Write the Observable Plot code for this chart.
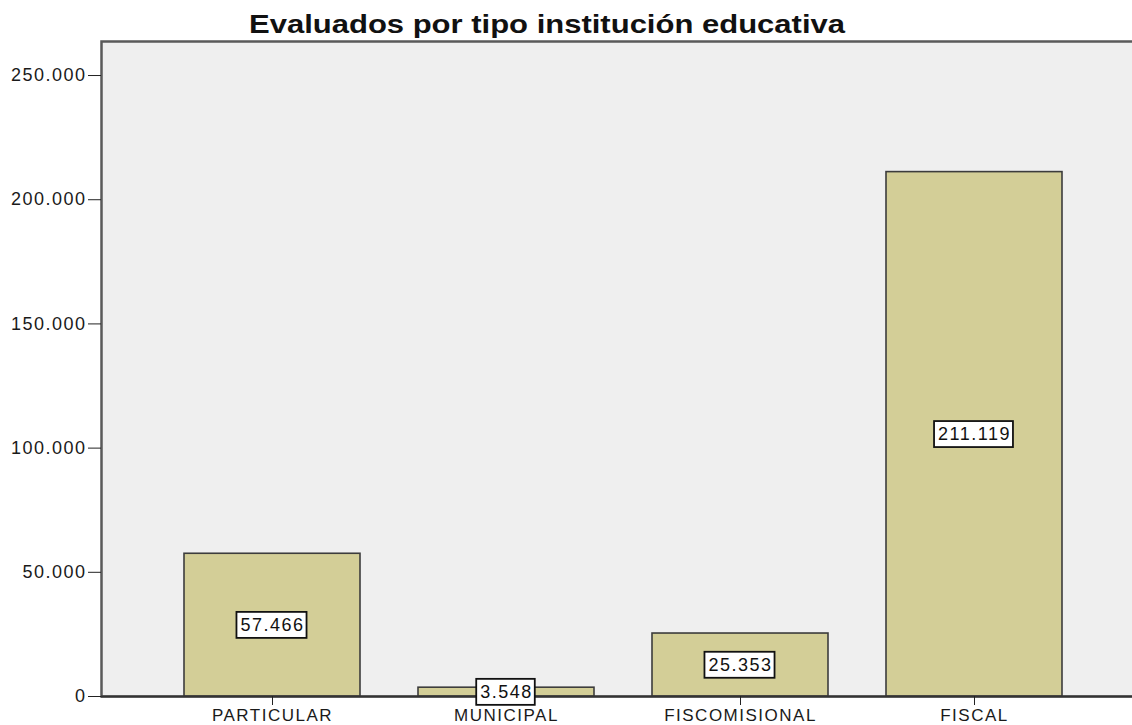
<!DOCTYPE html>
<html><head><meta charset="utf-8">
<script src="https://cdn.jsdelivr.net/npm/d3@7"></script>
<script src="https://cdn.jsdelivr.net/npm/@observablehq/plot@0.6"></script>
<style>
body{margin:0;background:#fff;font-family:"Liberation Sans",Arial,sans-serif;}
#wrap{position:relative;width:1132px;height:725px;overflow:hidden;}
#title{position:absolute;left:249px;top:12px;font-size:25px;line-height:25px;font-weight:bold;color:#111;transform:scaleX(1.24);transform-origin:0 0;white-space:nowrap;}
#chart{position:absolute;left:0;top:0;}
</style></head><body>
<div id="wrap"><div id="chart"></div><div id="title"></div></div>
<script>
const titleText = "Evaluados por tipo institución educativa";
const categories = ["PARTICULAR", "MUNICIPAL", "FISCOMISIONAL", "FISCAL"];
const values = [57466, 3548, 25353, 211119];
const yTicks = [0, 50000, 100000, 150000, 200000, 250000];

document.getElementById("title").textContent = titleText;
const data = categories.map((c, i) => ({cat: c, value: values[i]}));
const fmt = d3.formatLocale({decimal: ",", thousands: ".", grouping: [3], currency: ["", ""]}).format(",d");

const plot = Plot.plot({
  width: 1132, height: 725,
  marginTop: 41, marginBottom: 29, marginLeft: 101, marginRight: -6,
  style: {fontFamily: '"Liberation Sans", Arial, sans-serif', fontSize: "18px", color: "#1a1a1a", background: "transparent", letterSpacing: "1.5px"},
  x: {domain: categories, padding: 0.247, insetLeft: 23, insetRight: 16},
  y: {domain: [0, 263700]},
  marks: [
    Plot.frame({fill: "#efefef", stroke: "#5a5a5a", strokeWidth: 2.5}),
    Plot.barY(data, {x: "cat", y: "value", fill: "#d3ce97", stroke: "#3c3c3c", strokeWidth: 1.6}),
    Plot.ruleY([0], {stroke: "#333", strokeWidth: 2}),
    Plot.axisY({ticks: yTicks, tickFormat: fmt, tickSize: 13, tickPadding: 2, stroke: "#222", label: null}),
    Plot.axisX({tickSize: 9, tickPadding: 3, fontSize: 17, label: null, stroke: "#222"}),
    Plot.text(data, {x: "cat", y: d => d.value / 2, text: d => fmt(d.value), fontSize: 18, fill: "#111"})
  ]
});
document.getElementById("chart").appendChild(plot);

const svgNS = "http://www.w3.org/2000/svg";
const labelGroup = plot.querySelector('g[aria-label="text"]');
if (labelGroup) {
  labelGroup.querySelectorAll("text").forEach(t => {
    const b = t.getBBox();
    const r = document.createElementNS(svgNS, "rect");
    r.setAttribute("x", b.x - 4);
    r.setAttribute("y", b.y - 3);
    r.setAttribute("width", b.width + 6);
    r.setAttribute("height", b.height + 6);
    r.setAttribute("fill", "#fff");
    r.setAttribute("stroke", "#111");
    r.setAttribute("stroke-width", 1.8);
    const tr = t.getAttribute("transform");
    if (tr) r.setAttribute("transform", tr);
    t.parentNode.insertBefore(r, t);
  });
}
</script>
</body></html>
